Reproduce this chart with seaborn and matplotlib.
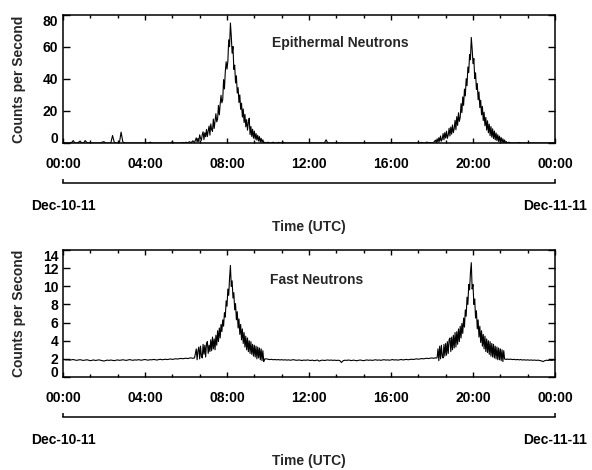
import numpy as np
import pandas as pd
import matplotlib
matplotlib.use("Agg")
import matplotlib.pyplot as plt
from matplotlib.ticker import MultipleLocator
import seaborn as sns

# ---------------- data ----------------
# Quiet stretches sampled every 5 min, the two passes every 2.5 min.
# (segment start in minutes after 00:00 Dec-10-11, sample step in minutes)
segment_starts_min = [0, 390, 590, 1090, 1300]
segment_steps_min = [5, 2.5, 5, 2.5, 5]

epi_base_a = [
    0, 0, 0, 0, 0, 0.3, 1.5, 0, 0, 0.4, 1.2, 0,
    0, 1.5, 0.3, 0, 0, 0, 0, 0, 0, 0, 0, 0.6,
    0.8, 0, 0, 0, 0, 4.7, 0.5, 0, 0, 0, 6.8, 0.8,
    0, 0, 0, 0, 0, 0, 0, 0, 0, 0, 0, 0,
    0, 0, 0, 0.5, 0, 0, 0, 0, 0, 0, 0, 0,
    0, 0, 0, 0, 0.8, 0, 0, 0, 0, 0, 0.3, 0,
    0.5, 0, 0.8, 0.2, 1.4, 0.3,
]
epi_peak1 = [
    3.2, 0.6, 2.9, 0.8, 5.1, 3.0, 1.6, 5.2, 7.0, 2.1,
    6.4, 3.9, 8.5, 4.0, 7.6, 10.6, 4.9, 11.9, 8.4, 7.3,
    15.0, 9.1, 14.0, 18.3, 13.2, 15.0, 23.5, 17.6, 24.2, 29.8,
    25.1, 27.0, 39.6, 33.8, 44.5, 50.8, 46.2, 51.0, 64.5, 60.2,
    75.0, 66.8, 56.1, 60.3, 46.0, 48.7, 37.5, 42.0, 31.2, 34.6,
    25.3, 30.1, 21.0, 24.9, 16.2, 21.3, 12.8, 17.9, 10.1, 14.6,
    8.0, 12.7, 15.5, 5.2, 10.3, 4.1, 8.6, 3.0, 7.4, 2.4,
    5.9, 1.8, 4.8, 1.2, 4.0, 0.6, 2.9, 0.4, 2.0, 0,
]
epi_base_b = [
    0.5, 0,
    0.5, 0, 0, 0.5, 0, 0, 0.4, 0, 0, 0.5, 0, 0,
    0, 0, 0, 0, 0, 0, 0, 0, 0, 0, 0, 0,
    0, 0, 0, 0, 0, 0, 0, 0, 0, 0, 2.0, 0,
    0, 0, 0, 0, 0, 0, 0, 0, 0, 0, 0, 0,
    0, 0, 0, 0, 0, 0, 0, 0, 0, 0, 0, 0,
    0, 0, 0, 0, 0, 0, 0, 0, 0, 0, 0, 0,
    0, 0, 0, 0, 0, 0, 0, 0, 0, 0, 0, 0,
    0, 0, 0, 0, 0, 0, 0.4, 0, 0, 0.6, 0, 0.3,
    0, 0.4,
]
epi_peak2 = [
    1.8, 0.2, 2.6, 0.5, 3.3, 1.0, 4.4, 1.2, 2.5, 5.9,
    2.0, 6.5, 3.1, 7.4, 2.9, 5.0, 9.2, 4.4, 10.0, 5.5,
    11.3, 6.5, 9.0, 14.2, 8.3, 16.5, 11.0, 18.9, 13.5, 16.0,
    24.6, 18.9, 28.8, 23.5, 33.7, 29.4, 40.2, 35.8, 47.5, 44.0,
    55.2, 52.0, 66.0, 58.9, 49.6, 52.8, 40.3, 43.9, 33.4, 37.2,
    27.0, 31.9, 22.1, 26.8, 17.6, 22.9, 14.0, 19.2, 10.8, 16.0,
    8.1, 13.9, 6.4, 11.8, 4.6, 10.3, 3.7, 8.9, 2.8, 7.5,
    2.0, 6.3, 1.5, 5.2, 0.9, 4.3, 0.6, 3.4, 0.3, 2.6,
    0, 1.9, 0, 0.9,
]
epi_base_c = [
    0, 0.5, 0, 0,
    0, 0, 0, 0.3, 0, 0, 0, 0, 0, 0, 0, 0,
    0, 0, 0, 0, 0, 0, 0, 0, 0, 0, 0, 0,
    0,
]

fast_base_a = [
    1.95, 1.92, 1.88, 1.90, 1.86, 1.89, 1.93, 1.87, 1.84, 1.88, 1.91, 1.86,
    1.83, 1.87, 1.90, 1.85, 1.80, 1.84, 1.88, 1.82, 1.86, 1.89, 1.85, 1.81,
    1.76, 1.82, 1.86, 1.83, 1.87, 1.84, 1.80, 1.85, 1.88, 1.84, 1.86, 1.90,
    1.86, 1.83, 1.88, 1.92, 1.87, 1.84, 1.89, 1.86, 1.91, 1.88, 1.85, 1.90,
    1.93, 1.88, 1.86, 1.91, 1.89, 1.94, 1.90, 1.87, 1.92, 1.95, 1.90, 1.93,
    1.96, 1.92, 1.95, 1.99, 1.94, 1.97, 2.01, 1.98, 2.02, 2.05, 2.01, 2.04,
    2.07, 2.03, 2.08, 2.11, 2.06, 2.10,
]
fast_peak1 = [
    3.1, 1.9, 2.9, 3.3, 2.0, 3.4, 2.3, 2.1, 3.6, 2.5,
    3.5, 2.2, 3.7, 3.9, 2.6, 3.5, 2.8, 4.1, 2.9, 4.4,
    3.1, 4.2, 3.0, 4.6, 3.5, 5.1, 3.9, 5.4, 4.3, 5.8,
    5.0, 6.3, 5.6, 7.1, 6.6, 8.4, 7.8, 9.7, 9.0, 10.9,
    12.3, 10.0, 10.6, 8.7, 9.3, 7.4, 8.1, 6.3, 7.2, 5.4,
    6.4, 4.7, 5.8, 4.1, 5.3, 3.7, 4.9, 3.3, 4.5, 3.0,
    4.3, 2.8, 4.0, 2.6, 3.9, 2.5, 3.6, 2.3, 3.5, 2.2,
    3.4, 2.0, 3.3, 2.1, 3.2, 1.9, 3.1, 1.8, 2.9, 1.7,
]
fast_base_b = [
    1.98, 2.00,
    1.96, 1.92, 1.95, 1.90, 1.93, 1.89, 1.92, 1.88, 1.91, 1.87, 1.90, 1.86,
    1.89, 1.85, 1.88, 1.91, 1.86, 1.84, 1.88, 1.85, 1.82, 1.87, 1.84, 1.88,
    1.85, 1.82, 1.86, 1.80, 1.84, 1.87, 1.75, 1.83, 1.86, 1.82, 1.85, 1.88,
    1.84, 1.87, 1.83, 1.86, 1.82, 1.85, 1.81, 1.60, 1.80, 1.85, 1.83, 1.87,
    1.84, 1.81, 1.86, 1.83, 1.79, 1.84, 1.87, 1.83, 1.80, 1.85, 1.88, 1.84,
    1.87, 1.83, 1.86, 1.90, 1.85, 1.88, 1.84, 1.87, 1.91, 1.86, 1.89, 1.85,
    1.88, 1.92, 1.87, 1.90, 1.86, 1.89, 1.93, 1.88, 1.91, 1.94, 1.90, 1.93,
    1.96, 1.93, 1.97, 2.00, 1.96, 1.99, 2.03, 2.00, 2.04, 2.07, 2.03, 2.08,
    2.10, 2.06,
]
fast_peak2 = [
    2.12, 2.08, 2.14, 3.1, 1.8, 3.4, 2.0, 3.5, 2.3, 2.1,
    3.6, 2.3, 3.7, 2.4, 3.9, 2.6, 4.1, 4.3, 2.8, 4.4,
    3.0, 4.6, 3.2, 4.9, 3.3, 5.0, 3.6, 5.3, 3.9, 5.6,
    4.3, 5.9, 4.8, 6.5, 5.5, 7.4, 6.7, 8.8, 8.0, 10.2,
    9.6, 11.5, 12.6, 9.7, 10.2, 8.0, 8.6, 6.5, 7.3, 5.3,
    6.3, 4.4, 5.6, 3.8, 5.1, 3.4, 4.7, 3.1, 4.5, 2.8,
    4.2, 2.7, 4.0, 2.5, 3.9, 2.3, 3.7, 2.2, 3.6, 2.1,
    3.4, 2.0, 3.3, 1.9, 3.2, 1.9, 3.1, 1.8, 3.0, 1.7,
    2.9, 1.98, 1.95, 1.93,
]
fast_base_c = [
    1.98, 1.94, 1.97, 1.92,
    1.95, 1.90, 1.93, 1.89, 1.92, 1.87, 1.90, 1.86, 1.89, 1.85, 1.88, 1.84,
    1.87, 1.83, 1.86, 1.82, 1.78, 1.70, 1.80, 1.85, 1.82, 1.86, 1.83, 1.87,
    1.85,
]

time_tick_hours = [0, 4, 8, 12, 16, 20, 24]
time_tick_labels = ["00:00", "04:00", "08:00", "12:00", "16:00", "20:00", "00:00"]
date_tick_hours = [0, 24]
date_tick_labels = ["Dec-10-11", "Dec-11-11"]
epi_yticks = [0, 20, 40, 60, 80]
fast_yticks = [0, 2, 4, 6, 8, 10, 12, 14]
panel_titles = ["Epithermal Neutrons", "Fast Neutrons"]
y_title = "Counts per Second"
x_title = "Time (UTC)"

epi_segments = [epi_base_a, epi_peak1, epi_base_b, epi_peak2, epi_base_c]
fast_segments = [fast_base_a, fast_peak1, fast_base_b, fast_peak2, fast_base_c]


def build_series(segments):
    t = np.concatenate([(s0 + st * np.arange(len(vals))) / 60.0
                        for s0, st, vals in zip(segment_starts_min, segment_steps_min, segments)])
    v = np.concatenate([np.asarray(vals, dtype=float) for vals in segments])
    return pd.DataFrame({"hours": t, "counts": v})


df_epi = build_series(epi_segments)
df_fast = build_series(fast_segments)

# ---------------- styling ----------------
sns.set_style("ticks")
plt.rcParams["font.family"] = ["Liberation Sans", "DejaVu Sans"]
plt.rcParams["font.weight"] = "bold"
plt.rcParams["axes.labelweight"] = "bold"
plt.rcParams["font.size"] = 10

W, H = 592, 470
fig = plt.figure(figsize=(W / 100, H / 100), dpi=100)
ax_top = fig.add_axes([63 / W, 1 - 143 / H, 492 / W, 128 / H])
ax_bot = fig.add_axes([63 / W, 1 - 377 / H, 492 / W, 127 / H])


def style_panel(ax, df, yticks, yminor, title, title_xy):
    sns.lineplot(data=df, x="hours", y="counts", ax=ax, color="black",
                 linewidth=0.8, estimator=None, sort=True)
    ax2 = ax.twiny()
    ax.set_xlim(0, 24)
    ax.set_ylim(yticks[0], yticks[-1])
    ax.set_xticks(time_tick_hours)
    ax.set_xticklabels(time_tick_labels)
    ax.xaxis.set_minor_locator(MultipleLocator(4 / 3))
    ax.set_yticks(yticks)
    ax.yaxis.set_minor_locator(MultipleLocator(yminor))
    ax.tick_params(axis="both", which="both", direction="in", top=True, bottom=True,
                   left=True, right=True, width=1.0, colors="black", labelsize=10)
    ax.tick_params(axis="x", which="major", length=3.5, pad=10)
    ax.tick_params(axis="x", which="minor", length=2.5)
    ax.tick_params(axis="y", which="major", length=5, pad=3.5)
    ax.tick_params(axis="y", which="minor", length=2.5)
    for sp in ax.spines.values():
        sp.set_visible(True)
        sp.set_linewidth(1.1)
        sp.set_color("black")
    ax.set_xlabel("")
    ax.set_ylabel(y_title, fontsize=10, fontweight="bold", labelpad=12)
    yt = ax.yaxis.get_major_ticks()
    yt[0].label1.set_verticalalignment("baseline")
    yt[-1].label1.set_verticalalignment("top")
    ax.text(title_xy[0], title_xy[1], title, transform=ax.transAxes,
            ha="left", va="center", fontsize=10, fontweight="bold")

    # date bracket axis below the time labels
    ax2.set_xlim(0, 24)
    ax2.xaxis.set_ticks_position("bottom")
    ax2.xaxis.set_label_position("bottom")
    ax2.spines["bottom"].set_position(("outward", 29))
    for side in ["top", "left", "right"]:
        ax2.spines[side].set_visible(False)
    ax2.spines["bottom"].set_linewidth(1.1)
    ax2.spines["bottom"].set_color("black")
    ax2.set_xticks(date_tick_hours)
    ax2.set_xticklabels(date_tick_labels)
    ax2.minorticks_off()
    ax2.tick_params(axis="x", which="major", direction="in", length=3, width=1.1,
                    pad=11.5, labelsize=10, colors="black")
    ax2.set_xlabel(x_title, fontsize=10, fontweight="bold", labelpad=5)


style_panel(ax_top, df_epi, epi_yticks, 5, panel_titles[0], (0.425, 0.78))
style_panel(ax_bot, df_fast, fast_yticks, 0.5, panel_titles[1], (0.421, 0.764))

fig.savefig("out.png", dpi=100)
